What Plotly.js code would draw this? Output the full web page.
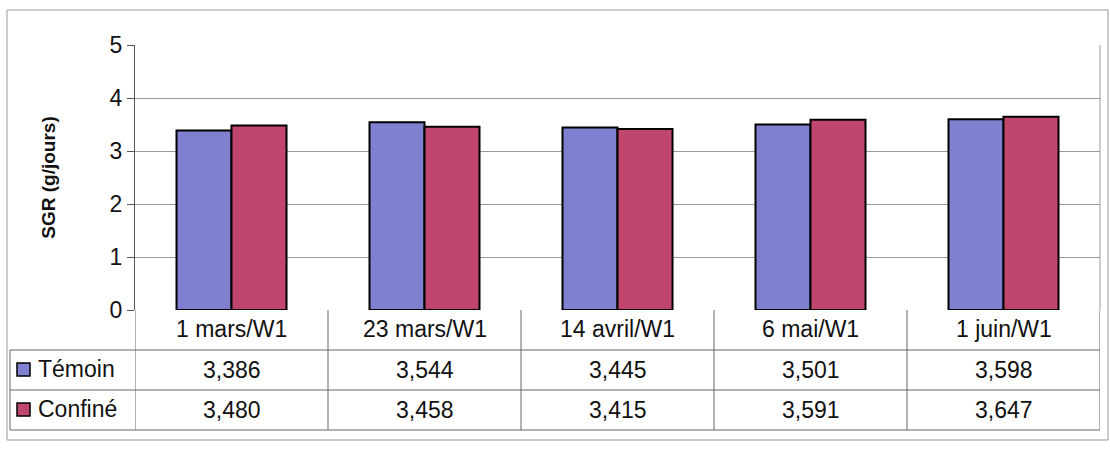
<!DOCTYPE html>
<html><head><meta charset="utf-8">
<script src="https://cdn.plot.ly/plotly-3.0.1.min.js"></script>
<style>body{margin:0;background:#fff}#c{width:1110px;height:449px}</style>
</head><body><div id="c"></div>
<script>
const categories = ["1 mars/W1","23 mars/W1","14 avril/W1","6 mai/W1","1 juin/W1"];
const temoin = [3.386,3.544,3.445,3.501,3.598];
const confine = [3.480,3.458,3.415,3.591,3.647];
const seriesNames = ["Témoin","Confiné"];
const yTicks = [0,1,2,3,4,5];

const W=1110,H=449, L=135, R=10, T=45, B=139;
const plotH = H-T-B;
const py = p => (H-B-p)/plotH;          // pixel y -> paper y
const px = p => (p-L)/(W-L-R);          // pixel x -> paper x
const fmt = v => v.toFixed(3).replace('.', ',');
const colT = '#7f80cf', colC = '#c0466e';
const font = {family:'Liberation Sans, Arial, sans-serif', size:23, color:'#111'};

const traces = [
  {type:'bar', name:seriesNames[0], x:categories, y:temoin, marker:{color:colT, line:{color:'#000', width:2}}},
  {type:'bar', name:seriesNames[1], x:categories, y:confine, marker:{color:colC, line:{color:'#000', width:2}}}
];

const shapes = [];
const ann = [];
const lineC = '#666';
// outer border
shapes.push({type:'rect', xref:'paper', yref:'paper', x0:px(7), x1:px(1108), y0:py(440), y1:py(10), line:{color:'#999', width:1}});
// table horizontal lines
[350,390,430].forEach(y=>shapes.push({type:'line', xref:'paper', yref:'paper', x0:px(10), x1:1, y0:py(y), y1:py(y), line:{color:lineC,width:1}}));
// left border of legend column
shapes.push({type:'line', xref:'paper', yref:'paper', x0:px(10), x1:px(10), y0:py(350), y1:py(430), line:{color:lineC,width:1}});
// category boundaries
for(let i=0;i<=categories.length;i++){
  shapes.push({type:'line', xref:'x', yref:'paper', x0:i-0.5, x1:i-0.5, y0:0, y1:py(430), line:{color:lineC,width:1}});
}
// legend keys
[[colT,370],[colC,410]].forEach(([c,y])=>{
  shapes.push({type:'rect', xref:'paper', yref:'paper', x0:px(17), x1:px(30), y0:py(y+6), y1:py(y-7), fillcolor:c, line:{color:'#000',width:1.5}});
});
seriesNames.forEach((n,k)=>ann.push({xref:'paper', yref:'paper', x:px(36), y:py(369+40*k), text:n, showarrow:false, xanchor:'left', yanchor:'middle', font}));
categories.forEach((c,i)=>{
  ann.push({xref:'x', yref:'paper', x:i, y:py(329), text:c, showarrow:false, yanchor:'middle', font});
  ann.push({xref:'x', yref:'paper', x:i, y:py(370), text:fmt(temoin[i]), showarrow:false, yanchor:'middle', font});
  ann.push({xref:'x', yref:'paper', x:i, y:py(410), text:fmt(confine[i]), showarrow:false, yanchor:'middle', font});
});

const layout = {
  width:W, height:H,
  margin:{l:L, r:R, t:T, b:B},
  paper_bgcolor:'#fff', plot_bgcolor:'#fff',
  showlegend:false,
  barmode:'group', bargap:0.43, bargroupgap:0,
  xaxis:{showticklabels:false, ticks:'', showgrid:false, zeroline:false, showline:false, range:[-0.5,categories.length-0.5], fixedrange:true},
  yaxis:{range:[0,5], tickvals:yTicks, ticks:'outside', ticklen:7, tickcolor:'#555', tickfont:{family:font.family,size:23,color:'#111'},
         showgrid:true, gridcolor:'#999', gridwidth:1, zeroline:false, showline:true, linecolor:'#555', linewidth:1, mirror:false,
         title:{text:'<b>SGR (g/jours)</b>', font:{family:font.family,size:19,color:'#111'}, standoff:48}},
  shapes, annotations:ann
};
// right border of plot area
layout.shapes.push({type:'line', xref:'paper', yref:'paper', x0:1, x1:1, y0:0, y1:1, line:{color:'#999',width:1}});
Plotly.newPlot('c', traces, layout, {displayModeBar:false, staticPlot:true});
</script></body></html>
